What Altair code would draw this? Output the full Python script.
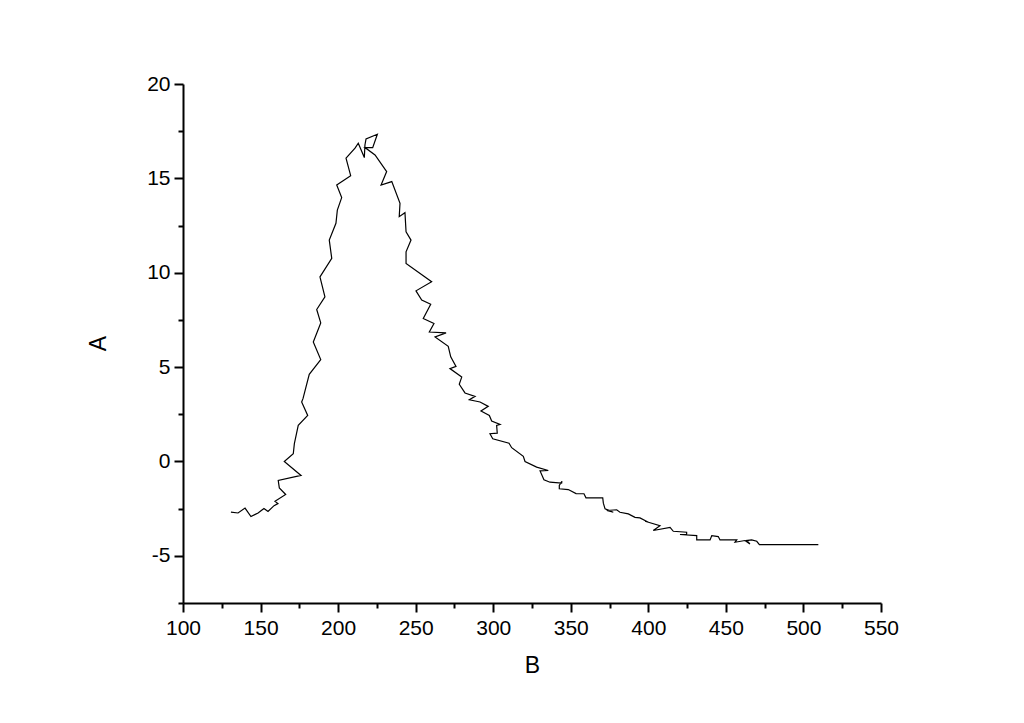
import altair as alt
import pandas as pd

# Trace of the curve, in drawing order (B = x, A = y)
b_vals = [130.9, 135.5, 140.0, 143.8, 148.4, 152.2, 154.8, 158.7, 161.2, 159.3,
          166.2, 162.1, 161.4, 176.1, 165.3, 171.1, 171.8, 174.3, 180.4, 176.5,
          177.4, 181.4, 188.8, 184.0, 188.8, 186.2, 191.5, 188.3, 195.9, 194.3,
          198.6, 199.5, 202.3, 199.1, 208.1, 205.1, 210.9, 213.0, 216.9, 217.3,
          218.0, 225.3, 222.3, 217.3, 223.8, 231.3, 227.7, 234.6, 239.9, 239.4,
          243.1, 243.8, 247.0, 243.8, 243.8, 260.3, 250.2, 253.9, 259.7, 254.9,
          261.8, 258.8, 269.6, 262.5, 271.0, 272.6, 276.0, 272.1, 279.7, 278.1,
          281.8, 288.3, 284.6, 291.5, 296.8, 292.1, 297.5, 299.0, 304.4, 302.2,
          302.6, 297.9, 299.7, 310.2, 311.9, 319.4, 320.5, 328.0, 335.5, 330.2,
          332.7, 336.6, 344.1, 344.3, 342.6, 342.6, 348.4, 353.4, 358.5, 359.8,
          370.6, 371.0, 372.1, 377.4, 373.2, 379.6, 381.7, 387.1, 391.4, 394.6,
          400.0, 397.9, 407.5, 403.2, 414.0, 416.1, 424.7, 424.7, 420.4, 431.2,
          431.2, 439.8, 440.9, 445.1, 446.2, 457.0, 455.9, 462.3, 465.5, 463.4,
          466.6, 469.9, 471.6, 509.6]
a_vals = [-2.68, -2.73, -2.47, -2.92, -2.73, -2.49, -2.65, -2.34, -2.23, -2.11,
          -1.75, -1.40, -1.01, -0.74, 0.00, 0.41, 0.94, 1.91, 2.44, 3.15,
          3.34, 4.62, 5.40, 6.33, 7.34, 8.05, 8.72, 9.78, 10.76, 11.73,
          12.62, 13.32, 13.98, 14.65, 15.14, 16.07, 16.60, 16.86, 16.10, 16.77,
          17.09, 17.34, 16.63, 16.63, 16.24, 15.36, 14.65, 14.83, 13.68, 12.97,
          13.18, 12.17, 11.73, 11.11, 10.49, 9.52, 9.04, 8.55, 8.33, 7.57,
          7.31, 6.86, 6.81, 6.60, 6.10, 5.54, 5.04, 4.92, 4.47, 4.09,
          3.63, 3.45, 3.27, 3.15, 2.92, 2.67, 2.44, 2.14, 1.96, 1.91,
          1.50, 1.47, 1.20, 0.97, 0.73, 0.27, 0.00, -0.30, -0.48, -0.50,
          -0.97, -1.10, -1.15, -1.05, -1.27, -1.45, -1.49, -1.70, -1.71, -1.93,
          -1.93, -2.21, -2.51, -2.69, -2.60, -2.56, -2.69, -2.78, -2.96, -2.99,
          -3.22, -3.17, -3.40, -3.66, -3.49, -3.70, -3.75, -3.87, -3.87, -3.93,
          -4.16, -4.16, -3.93, -3.98, -4.16, -4.16, -4.28, -4.19, -4.37, -4.19,
          -4.16, -4.23, -4.41, -4.41]

x_ticks = [100 + 25 * i for i in range(19)]
y_ticks = [-7.5 + 2.5 * i for i in range(12)]

df = pd.DataFrame({"B": b_vals, "A": a_vals, "i": list(range(len(b_vals)))})

FONT = "Liberation Sans"

x_axis = alt.Axis(
    values=x_ticks,
    labelExpr="datum.value % 50 === 0 ? datum.label : ''",
    tickSize={"condition": {"test": "datum.value % 50 === 0", "value": 9}, "value": 5},
    tickWidth=2, tickColor="black",
    domainWidth=2, domainColor="black",
    grid=False, labelFontSize=21, labelColor="black", labelFont=FONT,
    labelPadding=5, labelFlush=False, labelOverlap=False,
    titleFontSize=23, titleFont=FONT, titleFontWeight="normal", titleColor="black",
    titleX=349, titleY=62, titleAlign="center", titleBaseline="middle",
)
y_axis = alt.Axis(
    values=y_ticks,
    labelExpr="datum.value % 5 === 0 && datum.value > -7 ? replace(datum.label, '\u2212', '-') : ''",
    tickSize={"condition": {"test": "datum.value % 5 === 0", "value": 9}, "value": 5},
    tickWidth=2, tickColor="black",
    domainWidth=2, domainColor="black",
    grid=False, labelFontSize=21, labelColor="black", labelFont=FONT,
    labelPadding=4, labelFlush=False, labelOverlap=False,
    titleFontSize=23, titleFont=FONT, titleFontWeight="normal", titleColor="black",
    titleX=-85, titleY=259, titleAlign="center", titleBaseline="middle", titleAngle=270,
)

chart = alt.Chart(df).mark_line(color="black", strokeWidth=1.2).encode(
    x=alt.X("B:Q", scale=alt.Scale(domain=[100, 550], nice=False, zero=False), axis=x_axis, title="B"),
    y=alt.Y("A:Q", scale=alt.Scale(domain=[-7.5, 20], nice=False, zero=False), axis=y_axis, title="A"),
    order="i:Q",
).properties(
    width=698, height=519,
    background="white",
    autosize=alt.AutoSizeParams(type="none"),
    padding={"left": 175, "top": 76, "right": 120, "bottom": 100},
).configure_view(strokeWidth=0, stroke="transparent")

chart.save("out.html", embed_options={"renderer": "svg", "actions": False})
